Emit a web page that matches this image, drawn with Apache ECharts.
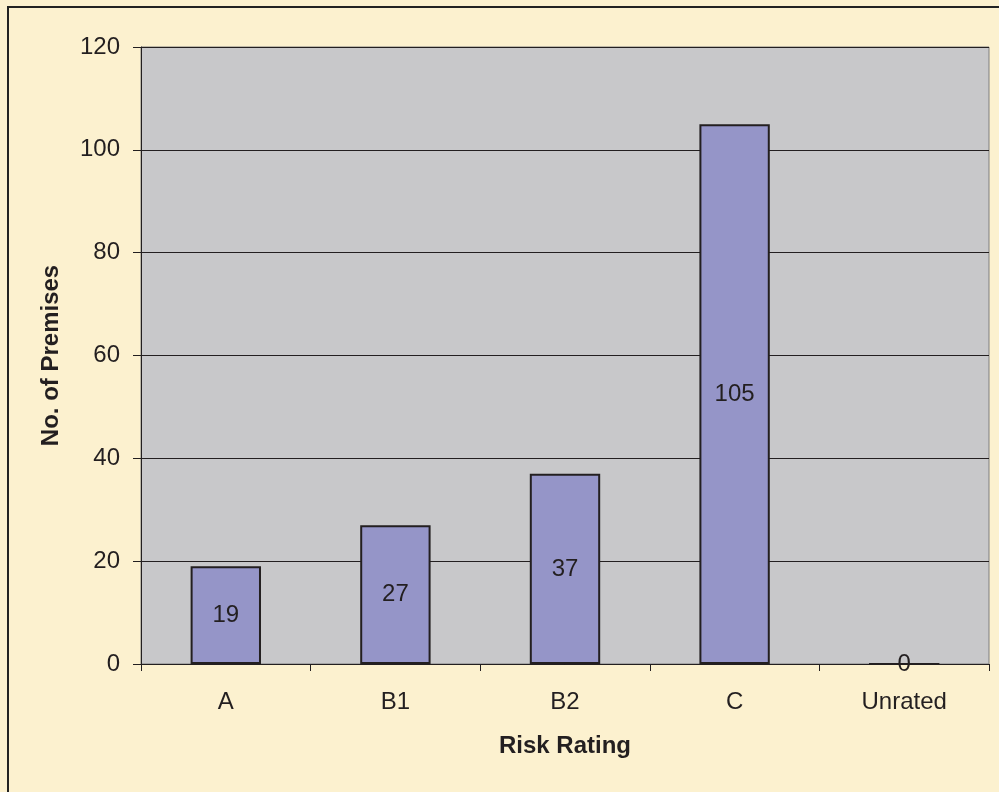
<!DOCTYPE html>
<html>
<head>
<meta charset="utf-8">
<script src="https://cdn.jsdelivr.net/npm/echarts@6/dist/echarts.min.js"></script>
<style>
  html, body { margin: 0; padding: 0; background: #fcf1cf; }
  #frame { position: absolute; left: 7px; top: 6px; width: 1000px; height: 800px;
           border-left: 2px solid #222; border-top: 2px solid #222; box-sizing: border-box; }
  #chart { width: 999px; height: 792px; position: absolute; left: 0; top: 0; }
</style>
</head>
<body>
<div id="frame"></div>
<div id="chart"></div>
<script>
// Premises by risk rating
const categories = ['A', 'B1', 'B2', 'C', 'Unrated'];
const premises = [19, 27, 37, 105, 0];
const yTicks = { min: 0, max: 120, interval: 20 };

const chart = echarts.init(document.getElementById('chart'));
const font = 'Arial, "Liberation Sans", sans-serif';
const ink = '#231f20';

chart.setOption({
  animation: false,
  backgroundColor: 'transparent',
  grid: {
    left: 141, right: 10, top: 47, bottom: 128,
    show: true, backgroundColor: '#c8c8ca', borderColor: '#7f7f7f', borderWidth: 1
  },
  xAxis: {
    type: 'category',
    data: categories,
    name: 'Risk Rating',
    nameLocation: 'middle',
    nameGap: 70,
    nameTextStyle: { fontFamily: font, fontSize: 24, fontWeight: 'bold', color: ink },
    axisLine: { lineStyle: { color: ink, width: 1 } },
    axisTick: { show: true, length: 7, lineStyle: { color: ink } },
    axisLabel: { fontFamily: font, fontSize: 24, color: ink, margin: 26 }
  },
  yAxis: {
    type: 'value',
    min: yTicks.min, max: yTicks.max, interval: yTicks.interval,
    name: 'No. of Premises',
    nameLocation: 'middle',
    nameGap: 78,
    nameTextStyle: { fontFamily: font, fontSize: 24, fontWeight: 'bold', color: ink },
    axisLine: { show: true, lineStyle: { color: ink, width: 1 } },
    axisTick: { show: true, length: 8, lineStyle: { color: ink } },
    axisLabel: { fontFamily: font, fontSize: 24, color: ink, margin: 21 },
    splitLine: { show: true, lineStyle: { color: ink, width: 1 } }
  },
  series: [{
    type: 'bar',
    data: premises,
    barWidth: '41.5%',
    itemStyle: { color: '#9595c8', borderColor: ink, borderWidth: 2 },
    label: {
      show: true,
      position: 'inside',
      fontFamily: font, fontSize: 24, color: ink
    }
  }]
});
</script>
</body>
</html>
